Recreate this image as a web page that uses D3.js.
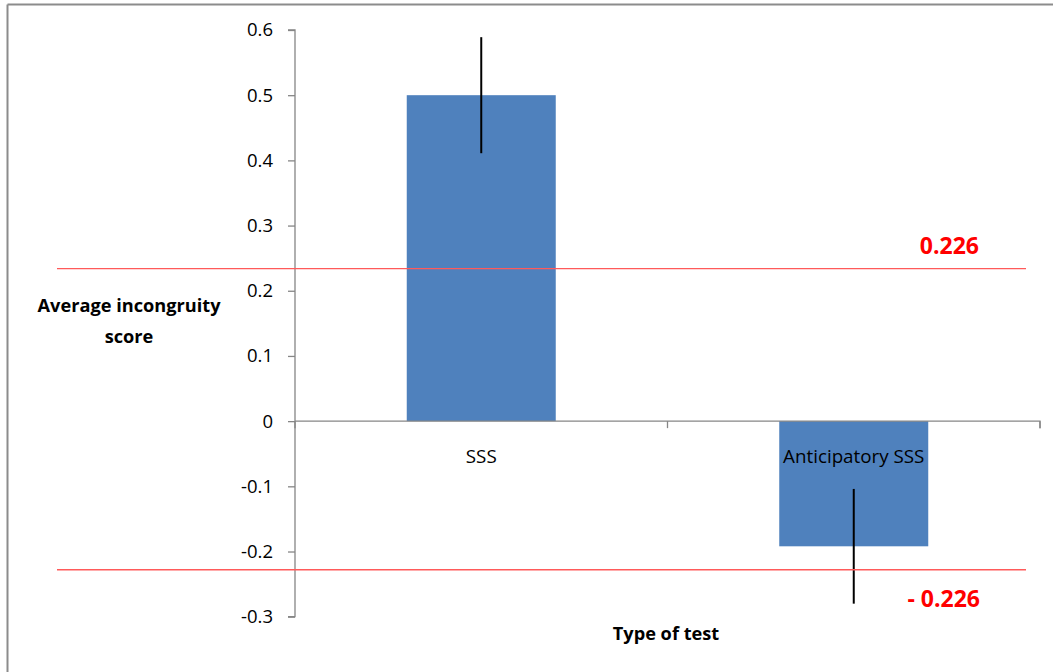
<!DOCTYPE html>
<html>
<head>
<meta charset="utf-8">
<script src="https://cdn.jsdelivr.net/npm/d3@7"></script>
<style>
  html, body { margin: 0; padding: 0; background: #fff; }
  svg { display: block; }
  text { font-family: "Open Sans", Lato, sans-serif; }
</style>
</head>
<body>
<svg id="chart" width="1053" height="672"></svg>
<script>
// ---- data ----
const categories = ["SSS", "Anticipatory SSS"];
const means = [0.5, -0.192];
const errors = [0.089, 0.088];
const yTicks = [0.6, 0.5, 0.4, 0.3, 0.2, 0.1, 0, -0.1, -0.2, -0.3];
const yTickLabels = ["0.6", "0.5", "0.4", "0.3", "0.2", "0.1", "0", "-0.1", "-0.2", "-0.3"];
const refValues = [0.234, -0.228];
const refLabels = ["0.226", "- 0.226"];
const yTitle = ["Average incongruity", "score"];
const xTitle = "Type of test";

// ---- layout ----
const svg = d3.select("#chart");
const W = 1053, H = 672;
const plot = { left: 295, right: 1040, top: 30, bottom: 616.7 };

const y = d3.scaleLinear().domain([-0.3, 0.6]).range([plot.bottom, plot.top]);
const x = d3.scaleBand().domain(categories).range([plot.left, plot.right])
  .paddingInner(0).paddingOuter(0);
const barW = x.bandwidth() / 2.5;

// outer frame (top and left visible)
svg.append("line").attr("x1", 7.5).attr("x2", W).attr("y1", 4.5).attr("y2", 4.5)
  .attr("stroke", "#8c8c8c").attr("stroke-width", 2);
svg.append("line").attr("x1", 7.5).attr("x2", 7.5).attr("y1", 4.5).attr("y2", H)
  .attr("stroke", "#8c8c8c").attr("stroke-width", 2);

const axisColor = "#868686";

// bars
svg.append("g").selectAll("rect").data(categories).join("rect")
  .attr("x", (d) => x(d) + (x.bandwidth() - barW) / 2)
  .attr("width", barW)
  .attr("y", (d, i) => y(Math.max(0, means[i])))
  .attr("height", (d, i) => Math.abs(y(means[i]) - y(0)))
  .attr("fill", "#4f81bd");

// y axis
const yAxis = d3.axisLeft(y).tickValues(yTicks)
  .tickFormat((d, i) => yTickLabels[i]).tickSize(7).tickPadding(15);
const gy = svg.append("g").attr("transform", `translate(${plot.left},0)`).call(yAxis);
gy.select(".domain").attr("stroke", axisColor).attr("stroke-width", 1.3)
  .attr("d", `M-7,${plot.top}H0V${plot.bottom}H-7`);
gy.selectAll(".tick line").attr("stroke", axisColor).attr("stroke-width", 1.3);
gy.selectAll(".tick text").attr("fill", "#000").style("font-size", "18.5px")
  .style("font-family", "'Open Sans', Lato, sans-serif");

// x axis at zero
const xAxis = d3.axisBottom(x).tickSize(0).tickFormat(() => "");
const gx = svg.append("g").attr("transform", `translate(0,${y(0)})`).call(xAxis);
gx.select(".domain").attr("stroke", axisColor).attr("stroke-width", 1.3)
  .attr("d", `M${plot.left},0H${plot.right}V7`);
// category boundary ticks
const bounds = categories.map((c) => x(c)).concat([plot.right]);
gx.selectAll(".bound").data(bounds).join("line").attr("class", "bound")
  .attr("x1", (d) => d).attr("x2", (d) => d).attr("y1", 0).attr("y2", 7)
  .attr("stroke", axisColor).attr("stroke-width", 1.3);

// category labels
svg.append("g").selectAll("text").data(categories).join("text")
  .attr("x", (d) => x(d) + x.bandwidth() / 2)
  .attr("y", y(0) + 42)
  .attr("text-anchor", "middle")
  .style("font-size", "18.8px")
  .attr("fill", "#000")
  .text((d) => d);

// error bars (no caps)
svg.append("g").selectAll("line").data(categories).join("line")
  .attr("x1", (d) => x(d) + x.bandwidth() / 2)
  .attr("x2", (d) => x(d) + x.bandwidth() / 2)
  .attr("y1", (d, i) => y(means[i] + errors[i]))
  .attr("y2", (d, i) => y(means[i] - errors[i]))
  .attr("stroke", "#000").attr("stroke-width", 2);

// reference lines
svg.append("g").selectAll("line").data(refValues).join("line")
  .attr("x1", 57).attr("x2", 1026)
  .attr("y1", (d) => y(d)).attr("y2", (d) => y(d))
  .attr("stroke", "#ff5a5a").attr("stroke-width", 1.3);

svg.append("text").attr("x", 979).attr("y", y(refValues[0]) - 15)
  .attr("text-anchor", "end").attr("fill", "#ff0000")
  .style("font-size", "23px").style("font-weight", "bold").text(refLabels[0]);
svg.append("text").attr("x", 980).attr("y", y(refValues[1]) + 37)
  .attr("text-anchor", "end").attr("fill", "#ff0000")
  .style("font-size", "23px").style("font-weight", "bold").text(refLabels[1]);

// axis titles
svg.append("text").attr("x", 129).attr("text-anchor", "middle")
  .style("font-size", "18.2px").style("font-weight", "bold").attr("fill", "#000")
  .selectAll("tspan").data(yTitle).join("tspan")
  .attr("x", 129).attr("y", (d, i) => 312 + i * 31).text((d) => d);

svg.append("text").attr("x", 666).attr("y", 640).attr("text-anchor", "middle")
  .style("font-size", "18.2px").style("font-weight", "bold").attr("fill", "#000")
  .text(xTitle);
</script>
</body>
</html>
